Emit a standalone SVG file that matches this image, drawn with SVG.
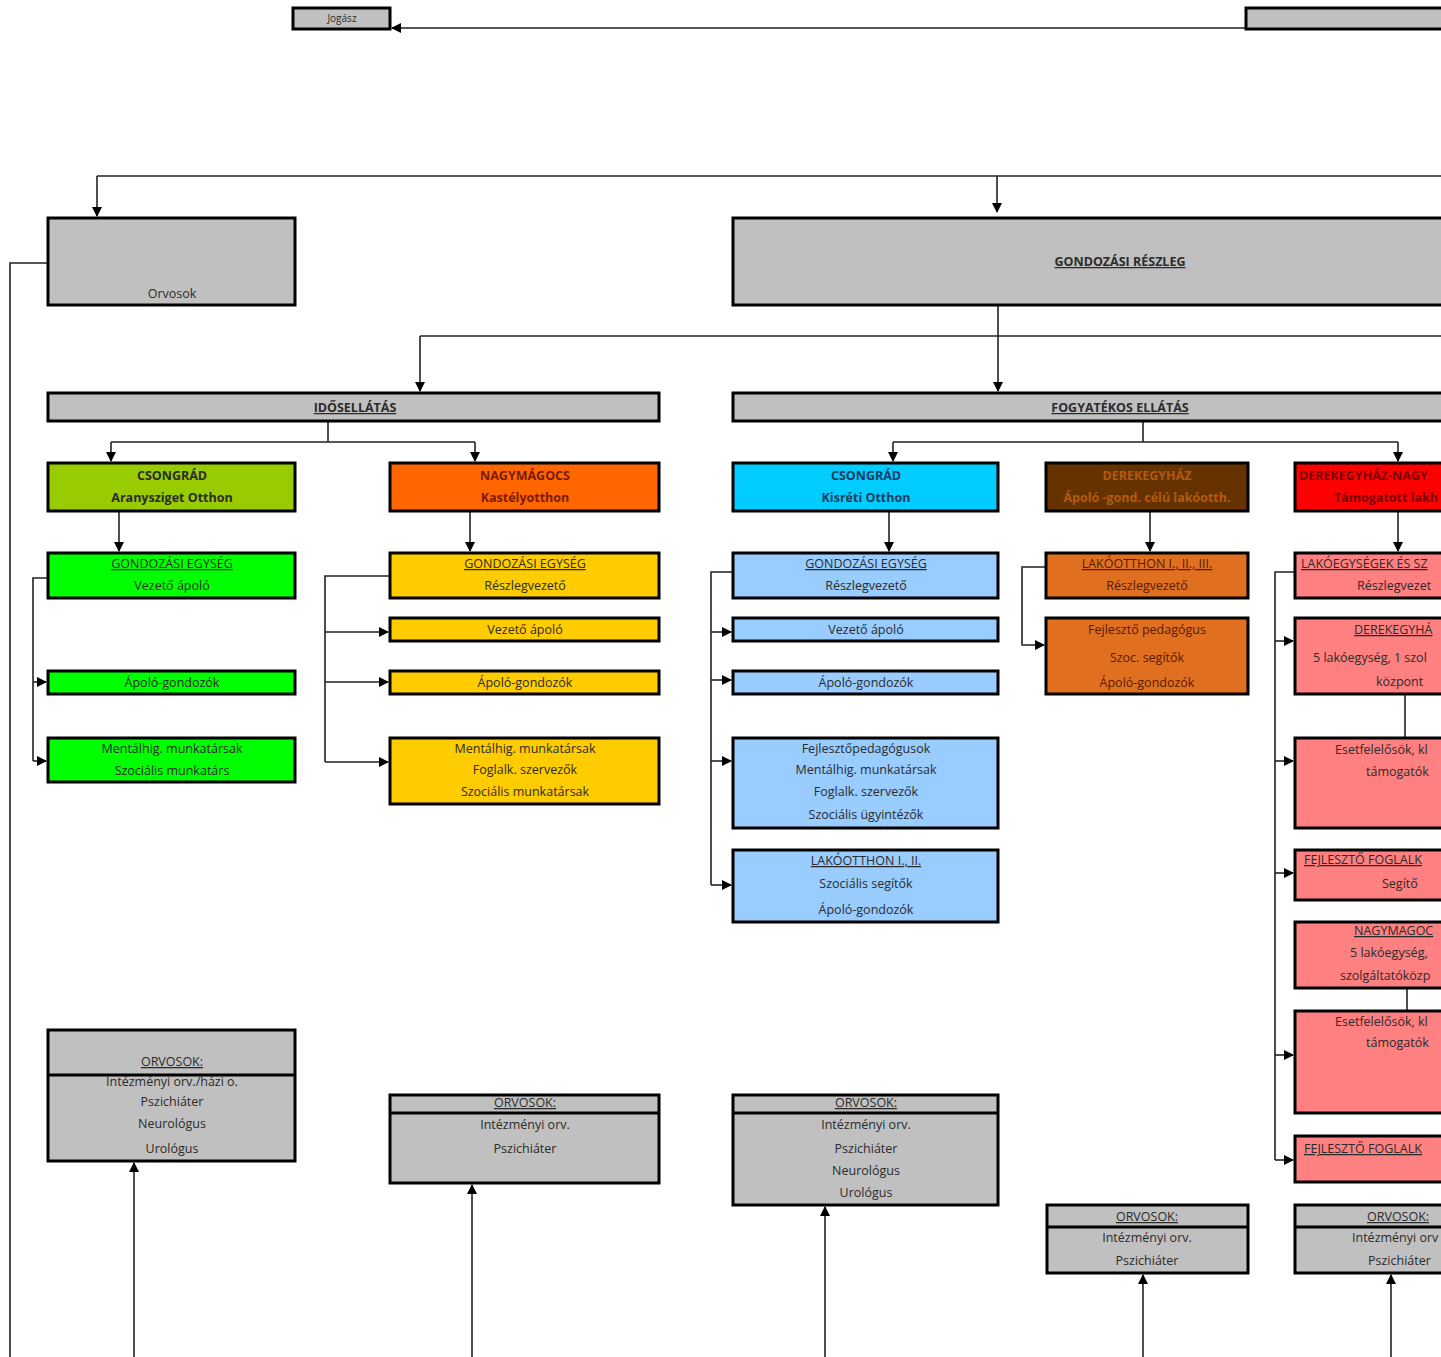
<svg xmlns="http://www.w3.org/2000/svg" width="1441" height="1357" viewBox="0 0 1441 1357">
<style>
.b{stroke:#000;stroke-width:3}
.g{fill:#c0c0c0}
.t{font-family:"Open Sans","Liberation Sans",sans-serif;font-size:12.5px;fill:#2b2b2b;text-anchor:middle}
.s{text-anchor:start}
.bd{font-weight:bold}
.u{text-decoration:underline}
.c{fill:none;stroke:#222;stroke-width:1.6}
</style>
<defs>
<marker id="a" markerWidth="10" markerHeight="10" refX="9" refY="5" orient="auto" markerUnits="userSpaceOnUse">
<path d="M0,0 L10,5 L0,10 z" fill="#000"/>
</marker>
</defs>
<rect width="1441" height="1357" fill="#fff"/>

<g id="connectors">
<path class="c" d="M1246,28 H392" marker-end="url(#a)"/>
<path class="c" d="M97,176 H1441"/>
<path class="c" d="M97,176 V216" marker-end="url(#a)"/>
<path class="c" d="M997,176 V212" marker-end="url(#a)"/>
<path class="c" d="M48,263 H10 V1357"/>
<path class="c" d="M998,305 V391" marker-end="url(#a)"/>
<path class="c" d="M420,336 H1441"/>
<path class="c" d="M420,336 V391" marker-end="url(#a)"/>
<path class="c" d="M328,421 V442 M111,442 H475"/>
<path class="c" d="M111,442 V461" marker-end="url(#a)"/>
<path class="c" d="M475,442 V461" marker-end="url(#a)"/>
<path class="c" d="M1143,421 V442 M893,442 H1398"/>
<path class="c" d="M893,442 V461" marker-end="url(#a)"/>
<path class="c" d="M1398,442 V461" marker-end="url(#a)"/>
<path class="c" d="M119,511 V551" marker-end="url(#a)"/>
<path class="c" d="M470,511 V551" marker-end="url(#a)"/>
<path class="c" d="M889,511 V551" marker-end="url(#a)"/>
<path class="c" d="M1150,511 V551" marker-end="url(#a)"/>
<path class="c" d="M1398,511 V551" marker-end="url(#a)"/>
<path class="c" d="M48,578 H33 V761"/>
<path class="c" d="M33,682 H46" marker-end="url(#a)"/>
<path class="c" d="M33,761 H46" marker-end="url(#a)"/>
<path class="c" d="M390,576 H325 V762"/>
<path class="c" d="M325,632 H388" marker-end="url(#a)"/>
<path class="c" d="M325,682 H388" marker-end="url(#a)"/>
<path class="c" d="M325,762 H388" marker-end="url(#a)"/>
<path class="c" d="M733,572 H711 V885"/>
<path class="c" d="M711,632 H731" marker-end="url(#a)"/>
<path class="c" d="M711,680 H731" marker-end="url(#a)"/>
<path class="c" d="M711,761 H731" marker-end="url(#a)"/>
<path class="c" d="M711,885 H731" marker-end="url(#a)"/>
<path class="c" d="M1046,567 H1022 V645 H1044" marker-end="url(#a)"/>
<path class="c" d="M1295,572 H1275 V1160"/>
<path class="c" d="M1275,641 H1293" marker-end="url(#a)"/>
<path class="c" d="M1275,761 H1293" marker-end="url(#a)"/>
<path class="c" d="M1275,873 H1293" marker-end="url(#a)"/>
<path class="c" d="M1275,1055 H1293" marker-end="url(#a)"/>
<path class="c" d="M1275,1160 H1293" marker-end="url(#a)"/>
<path class="c" d="M1405,694 V738 M1407,988 V1011"/>
<path class="c" d="M134,1357 V1163" marker-end="url(#a)"/>
<path class="c" d="M472,1357 V1185" marker-end="url(#a)"/>
<path class="c" d="M825,1357 V1207" marker-end="url(#a)"/>
<path class="c" d="M1143,1357 V1275" marker-end="url(#a)"/>
<path class="c" d="M1391,1357 V1275" marker-end="url(#a)"/>
</g>

<g id="jogasz"><rect class="b g" x="293" y="8" width="97" height="21"/><text class="t" x="342" y="22" style="font-size:10px">Jogász</text></g>
<g id="top-right"><rect class="b g" x="1246" y="8" width="200" height="21"/></g>

<g id="orvosok"><rect class="b g" x="48" y="218" width="247" height="87"/><text class="t" x="172" y="298">Orvosok</text></g>
<g id="gondozasi-reszleg"><rect class="b g" x="733" y="218" width="720" height="87"/><text class="t bd u" x="1120" y="266">GONDOZÁSI RÉSZLEG</text></g>

<g id="idosellatas"><rect class="b g" x="48" y="393" width="611" height="28"/><text class="t bd u" x="355" y="412">IDŐSELLÁTÁS</text></g>
<g id="fogyatekos"><rect class="b g" x="733" y="393" width="720" height="28"/><text class="t bd u" x="1120" y="412">FOGYATÉKOS ELLÁTÁS</text></g>

<g id="csongrad-arany"><rect class="b" fill="#99cc00" x="48" y="463" width="247" height="48"/><text class="t bd" x="172" y="480">CSONGRÁD</text><text class="t bd" x="172" y="502">Aranysziget Otthon</text></g>
<g id="nagymagocs"><rect class="b" fill="#ff6600" x="390" y="463" width="269" height="48"/><text class="t bd" x="525" y="480" fill="#7a1a00" style="fill:#7a1a00">NAGYMÁGOCS</text><text class="t bd" x="525" y="502" style="fill:#7a1a00">Kastélyotthon</text></g>
<g id="csongrad-kisreti"><rect class="b" fill="#00ccff" x="733" y="463" width="265" height="48"/><text class="t bd" x="866" y="480" style="fill:#1f3a5f">CSONGRÁD</text><text class="t bd" x="866" y="502" style="fill:#1f3a5f">Kisréti Otthon</text></g>
<g id="derekegyhaz"><rect class="b" fill="#663300" x="1046" y="463" width="202" height="48"/><text class="t bd" x="1147" y="480" style="fill:#b35a10">DEREKEGYHÁZ</text><text class="t bd" x="1147" y="502" style="fill:#b35a10">Ápoló -gond. célú lakóotth.</text></g>
<g id="derek-nagy"><rect class="b" fill="#ff0000" x="1295" y="463" width="160" height="48"/><text class="t bd s" x="1299" y="480" style="fill:#7a0000">DEREKEGYHÁZ-NAGY</text><text class="t bd s" x="1334" y="502" style="fill:#7a0000">Támogatott lakh</text></g>

<g id="l-gond"><rect class="b" fill="#00ff00" x="48" y="553" width="247" height="45"/><text class="t u" x="172" y="568">GONDOZÁSI EGYSÉG</text><text class="t" x="172" y="590">Vezető ápoló</text></g>
<g id="l-apolo"><rect class="b" fill="#00ff00" x="48" y="671" width="247" height="23"/><text class="t" x="172" y="687">Ápoló-gondozók</text></g>
<g id="l-ment"><rect class="b" fill="#00ff00" x="48" y="738" width="247" height="44"/><text class="t" x="172" y="753">Mentálhig. munkatársak</text><text class="t" x="172" y="775">Szociális munkatárs</text></g>

<g id="n-gond"><rect class="b" fill="#ffcc00" x="390" y="553" width="269" height="45"/><text class="t u" x="525" y="568">GONDOZÁSI EGYSÉG</text><text class="t" x="525" y="590">Részlegvezető</text></g>
<g id="n-vez"><rect class="b" fill="#ffcc00" x="390" y="618" width="269" height="23"/><text class="t" x="525" y="634">Vezető ápoló</text></g>
<g id="n-apolo"><rect class="b" fill="#ffcc00" x="390" y="671" width="269" height="23"/><text class="t" x="525" y="687">Ápoló-gondozók</text></g>
<g id="n-ment"><rect class="b" fill="#ffcc00" x="390" y="738" width="269" height="66"/><text class="t" x="525" y="753">Mentálhig. munkatársak</text><text class="t" x="525" y="774">Foglalk. szervezők</text><text class="t" x="525" y="796">Szociális munkatársak</text></g>

<g id="k-gond"><rect class="b" fill="#99ccff" x="733" y="553" width="265" height="45"/><text class="t u" x="866" y="568">GONDOZÁSI EGYSÉG</text><text class="t" x="866" y="590">Részlegvezető</text></g>
<g id="k-vez"><rect class="b" fill="#99ccff" x="733" y="618" width="265" height="23"/><text class="t" x="866" y="634">Vezető ápoló</text></g>
<g id="k-apolo"><rect class="b" fill="#99ccff" x="733" y="671" width="265" height="23"/><text class="t" x="866" y="687">Ápoló-gondozók</text></g>
<g id="k-fejl"><rect class="b" fill="#99ccff" x="733" y="738" width="265" height="90"/><text class="t" x="866" y="753">Fejlesztőpedagógusok</text><text class="t" x="866" y="774">Mentálhig. munkatársak</text><text class="t" x="866" y="796">Foglalk. szervezők</text><text class="t" x="866" y="819">Szociális ügyintézők</text></g>
<g id="k-lako"><rect class="b" fill="#99ccff" x="733" y="850" width="265" height="72"/><text class="t u" x="866" y="865">LAKÓOTTHON I., II.</text><text class="t" x="866" y="888">Szociális segítők</text><text class="t" x="866" y="914">Ápoló-gondozók</text></g>

<g id="d-lako"><rect class="b" fill="#e07020" x="1046" y="553" width="202" height="45"/><text class="t u" x="1147" y="568" style="fill:#5a1a00">LAKÓOTTHON I., II., III.</text><text class="t" x="1147" y="590" style="fill:#5a1a00">Részlegvezető</text></g>
<g id="d-fejl"><rect class="b" fill="#e07020" x="1046" y="618" width="202" height="76"/><text class="t" x="1147" y="634" style="fill:#5a1a00">Fejlesztő pedagógus</text><text class="t" x="1147" y="662" style="fill:#5a1a00">Szoc. segítők</text><text class="t" x="1147" y="687" style="fill:#5a1a00">Ápoló-gondozók</text></g>

<g id="r-lako"><rect class="b" fill="#ff8080" x="1295" y="553" width="160" height="45"/><text class="t u s" x="1301" y="568">LAKÓEGYSÉGEK ÉS SZ</text><text class="t s" x="1357" y="590">Részlegvezet</text></g>
<g id="r-derek"><rect class="b" fill="#ff8080" x="1295" y="618" width="160" height="76"/><text class="t u s" x="1354" y="634">DEREKEGYHÁ</text><text class="t s" x="1313" y="662">5 lakóegység, 1 szol</text><text class="t s" x="1376" y="686">központ</text></g>
<g id="r-eset1"><rect class="b" fill="#ff8080" x="1295" y="738" width="160" height="90"/><text class="t s" x="1335" y="754">Esetfelelősök, kl</text><text class="t s" x="1366" y="776">támogatók</text></g>
<g id="r-fejl1"><rect class="b" fill="#ff8080" x="1295" y="850" width="160" height="50"/><text class="t u s" x="1304" y="864">FEJLESZTŐ FOGLALK</text><text class="t s" x="1382" y="888">Segítő</text></g>
<g id="r-nagy"><rect class="b" fill="#ff8080" x="1295" y="922" width="160" height="66"/><text class="t u s" x="1354" y="935">NAGYMAGOC</text><text class="t s" x="1350" y="957">5 lakóegység,</text><text class="t s" x="1340" y="980">szolgáltatóközp</text></g>
<g id="r-eset2"><rect class="b" fill="#ff8080" x="1295" y="1011" width="160" height="102"/><text class="t s" x="1335" y="1026">Esetfelelősök, kl</text><text class="t s" x="1366" y="1047">támogatók</text></g>
<g id="r-fejl2"><rect class="b" fill="#ff8080" x="1295" y="1136" width="160" height="46"/><text class="t u s" x="1304" y="1153">FEJLESZTŐ FOGLALK</text></g>

<g id="orv1"><rect class="b g" x="48" y="1030" width="247" height="131"/><line class="b" x1="48" y1="1075" x2="295" y2="1075"/><text class="t u" x="172" y="1066">ORVOSOK:</text><text class="t" x="172" y="1086">Intézményi orv./házi o.</text><text class="t" x="172" y="1106">Pszichiáter</text><text class="t" x="172" y="1128">Neurológus</text><text class="t" x="172" y="1153">Urológus</text></g>
<g id="orv2"><rect class="b g" x="390" y="1095" width="269" height="88"/><line class="b" x1="390" y1="1113" x2="659" y2="1113"/><text class="t u" x="525" y="1107">ORVOSOK:</text><text class="t" x="525" y="1129">Intézményi orv.</text><text class="t" x="525" y="1153">Pszichiáter</text></g>
<g id="orv3"><rect class="b g" x="733" y="1095" width="265" height="110"/><line class="b" x1="733" y1="1113" x2="998" y2="1113"/><text class="t u" x="866" y="1107">ORVOSOK:</text><text class="t" x="866" y="1129">Intézményi orv.</text><text class="t" x="866" y="1153">Pszichiáter</text><text class="t" x="866" y="1175">Neurológus</text><text class="t" x="866" y="1197">Urológus</text></g>
<g id="orv4"><rect class="b g" x="1047" y="1205" width="201" height="68"/><line class="b" x1="1047" y1="1227" x2="1248" y2="1227"/><text class="t u" x="1147" y="1221">ORVOSOK:</text><text class="t" x="1147" y="1242">Intézményi orv.</text><text class="t" x="1147" y="1265">Pszichiáter</text></g>
<g id="orv5"><rect class="b g" x="1295" y="1205" width="160" height="68"/><line class="b" x1="1295" y1="1227" x2="1455" y2="1227"/><text class="t u s" x="1367" y="1221">ORVOSOK:</text><text class="t s" x="1352" y="1242">Intézményi orv</text><text class="t s" x="1368" y="1265">Pszichiáter</text></g>
</svg>
